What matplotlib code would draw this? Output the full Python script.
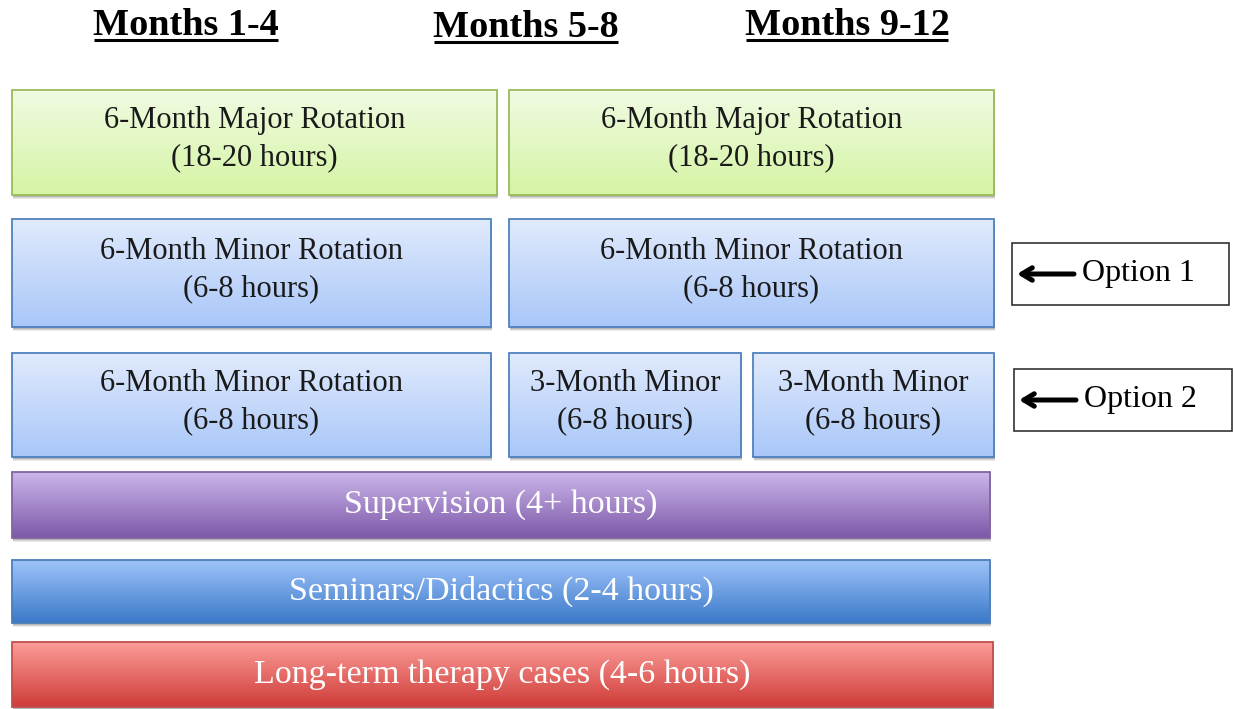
import numpy as np
import matplotlib.pyplot as plt
from matplotlib.patches import Rectangle
from matplotlib.colors import LinearSegmentedColormap

plt.rcParams['font.family'] = ['Liberation Serif', 'DejaVu Serif']

# header labels and their positions (pixels)
headers = ['Months 1-4', 'Months 5-8', 'Months 9-12']
header_x = [186, 526, 847]
header_base = [35, 37, 35]

# boxes: label, x0, x1, y0, y1, style
box_labels = [
    '6-Month Major Rotation\n(18-20 hours)', '6-Month Major Rotation\n(18-20 hours)',
    '6-Month Minor Rotation\n(6-8 hours)', '6-Month Minor Rotation\n(6-8 hours)',
    '6-Month Minor Rotation\n(6-8 hours)', '3-Month Minor\n(6-8 hours)', '3-Month Minor\n(6-8 hours)',
    'Supervision (4+ hours)', 'Seminars/Didactics (2-4 hours)', 'Long-term therapy cases (4-6 hours)',
]
box_x0 = [12, 509, 12, 509, 12, 509, 753, 12, 12, 12]
box_x1 = [497, 994, 491, 994, 491, 741, 994, 990, 990, 993]
box_y0 = [90, 90, 219, 219, 353, 353, 353, 472, 560, 642]
box_y1 = [195, 195, 327, 327, 457, 457, 457, 538, 623, 707]
box_style = ['green', 'green', 'lblue', 'lblue', 'lblue', 'lblue', 'lblue', 'purple', 'blue', 'red']

styles = {
    'green': ('#f0fbe2', '#d5f4a4', '#9bbb59', '#1a1a1a'),
    'lblue': ('#e0eafc', '#a9c7f9', '#4f81bd', '#1a1a1a'),
    'purple': ('#cbb6ea', '#7d58a8', '#8064a2', 'white'),
    'blue': ('#9ec3f9', '#3b79c9', '#4a7ebb', 'white'),
    'red': ('#fb9c98', '#cf3c38', '#c0504d', 'white'),
}

# option call-outs
options = ['Option 1', 'Option 2']
opt_x0 = [1012, 1014]
opt_x1 = [1229, 1232]
opt_y0 = [243, 369]
opt_y1 = [305, 431]

fig = plt.figure(figsize=(12.33, 7.09), dpi=100)
ax = fig.add_axes([0, 0, 1, 1])
ax.set_xlim(0, 1233)
ax.set_ylim(709, 0)
ax.axis('off')

for lab, x0, x1, y0, y1, st in zip(box_labels, box_x0, box_x1, box_y0, box_y1, box_style):
    top, bot, edge, tc = styles[st]
    # soft shadow
    for k, a in [(4, 0.08), (3, 0.10), (2, 0.14)]:
        ax.add_patch(Rectangle((x0 + 1, y0 + k), x1 - x0, y1 - y0, color='black', alpha=a, lw=0, zorder=1))
    cmap = LinearSegmentedColormap.from_list(st, [top, bot])
    grad = np.linspace(0, 1, 100).reshape(-1, 1)
    im = ax.imshow(grad, cmap=cmap, extent=(x0, x1, y1, y0), aspect='auto', zorder=2)
    rect = Rectangle((x0, y0), x1 - x0, y1 - y0, fc='none', ec=edge, lw=1.3, zorder=3)
    ax.add_patch(rect)
    im.set_clip_path(rect)
    two = '\n' in lab
    ax.text((x0 + x1) / 2, (y0 + y1) / 2 + (-3 if two else 0), lab, ha='center', va='center',
            fontsize=22 if two else 24.5, color=tc, linespacing=1.37, zorder=4)

for h, x, yb in zip(headers, header_x, header_base):
    t = ax.text(x, yb, h, ha='center', va='baseline', fontsize=27.5, fontweight='bold', color='black')
    fig.canvas.draw()
    bb = t.get_window_extent(fig.canvas.get_renderer()).transformed(ax.transData.inverted())
    ax.plot([bb.x0 + 1, bb.x1 - 1], [yb + 5, yb + 5], color='black', lw=2.2, solid_capstyle='butt')

for lab, x0, x1, y0, y1 in zip(options, opt_x0, opt_x1, opt_y0, opt_y1):
    ax.add_patch(Rectangle((x0, y0), x1 - x0, y1 - y0, fc='white', ec='#333333', lw=1.2, zorder=3))
    yc = (y0 + y1) / 2
    ax.annotate('', xy=(x0 + 5, yc), xytext=(x0 + 62, yc),
                arrowprops=dict(arrowstyle='->,head_length=0.75,head_width=0.45', lw=3.6, color='black',
                                shrinkA=0, shrinkB=0), zorder=4)
    ax.text(x0 + 70, yc, lab, ha='left', va='center', fontsize=23, zorder=4)

fig.savefig('out.png', dpi=100)
